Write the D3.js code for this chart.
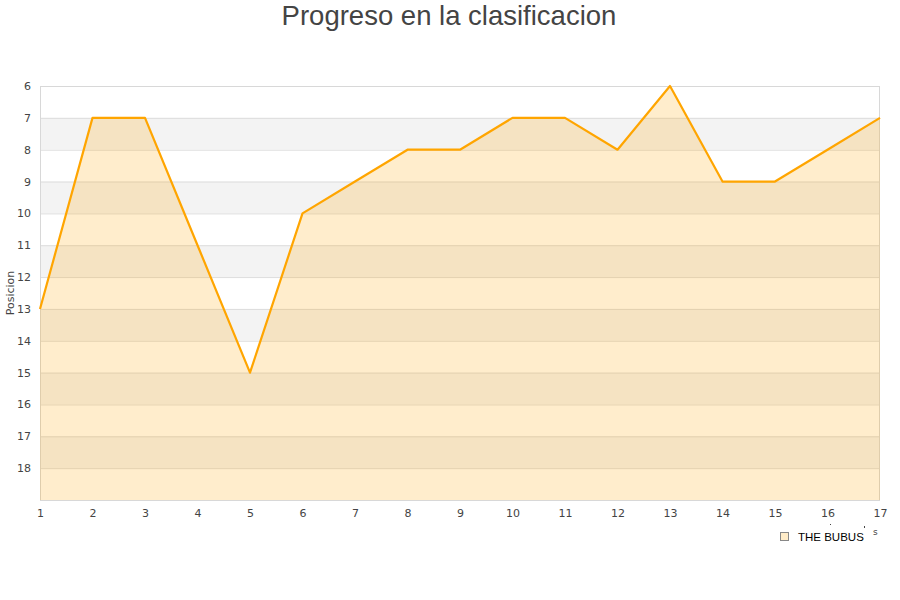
<!DOCTYPE html>
<html><head><meta charset="utf-8">
<script src="https://cdn.jsdelivr.net/npm/d3@7"></script>
<style>body{margin:0;background:#fff}svg{display:block}</style>
</head><body>
<svg id="c" width="900" height="600"></svg>
<script>
const title = "Progreso en la clasificacion";
const yLabel = "Posicion";
const seriesName = "THE BUBUS";
const jornadas = [1,2,3,4,5,6,7,8,9,10,11,12,13,14,15,16,17];
const posiciones = [13,7,7,11,15,10,9,8,8,7,7,8,6,9,9,8,7];
const yTicks = [6,7,8,9,10,11,12,13,14,15,16,17,18];

const svg = d3.select("#c");
const m = {l:40, r:880, t:86, b:500};
const x = d3.scaleLinear().domain([1,17]).range([m.l, m.r]);
const y = d3.scaleLinear().domain([6,19]).range([m.t, m.b]);

// bands
const bands = d3.range(6,19);
svg.append("g").selectAll("rect").data(bands).join("rect")
  .attr("x", m.l).attr("width", m.r-m.l)
  .attr("y", d=>y(d)).attr("height", d=>y(d+1)-y(d))
  .attr("fill", d => (d%2===1) ? "#f3f3f3" : "#ffffff");

// gridlines
svg.append("g").selectAll("line").data(yTicks.slice(1)).join("line")
  .attr("x1", m.l).attr("x2", m.r).attr("y1", d=>y(d)+0.5).attr("y2", d=>y(d)+0.5)
  .attr("stroke", "#dddddd").attr("stroke-width", 1);

// border
svg.append("rect").attr("x", m.l+0.5).attr("y", m.t+0.5)
  .attr("width", m.r-m.l-1).attr("height", m.b-m.t)
  .attr("fill","none").attr("stroke","#d8d8d8");

const data = jornadas.map((j,i)=>({j, p:posiciones[i]}));
svg.append("path").datum(data)
  .attr("d", d3.area().x(d=>x(d.j)).y0(y(19)).y1(d=>y(d.p)))
  .attr("fill", "#ffa500").attr("fill-opacity", 0.2);
svg.append("path").datum(data)
  .attr("d", d3.line().x(d=>x(d.j)).y(d=>y(d.p)))
  .attr("fill","none").attr("stroke","#ffa500").attr("stroke-width",2.2)
  .attr("stroke-linejoin","round");

// y axis labels
const yAxis = d3.axisLeft(y).tickValues(yTicks).tickSize(0).tickPadding(9);
const gy = svg.append("g").attr("transform",`translate(${m.l},0)`).call(yAxis);
gy.select(".domain").remove();
gy.selectAll("text").attr("font-family","DejaVu Sans").attr("font-size",11).attr("fill","#444");

// x axis labels
const xAxis = d3.axisBottom(x).tickValues(jornadas).tickSize(0).tickPadding(9);
const gx = svg.append("g").attr("transform",`translate(0,${m.b})`).call(xAxis);
gx.select(".domain").remove();
gx.selectAll("text").attr("font-family","DejaVu Sans").attr("font-size",11).attr("fill","#444");

// title
svg.append("text").attr("x",449).attr("y",25).attr("text-anchor","middle")
  .attr("font-family","Liberation Sans, Arial").attr("font-size",27.5).attr("fill","#444").text(title);

// y label
svg.append("text").attr("transform","translate(14,293) rotate(-90)").attr("text-anchor","middle")
  .attr("font-family","DejaVu Sans").attr("font-size",11).attr("fill","#444").text(yLabel);

// legend
svg.append("rect").attr("x",780.5).attr("y",532.5).attr("width",8).attr("height",8)
  .attr("fill","#ffecc8").attr("stroke","#888");
svg.append("text").attr("x",798).attr("y",540.5)
  .attr("font-family","Liberation Sans, Arial").attr("font-size",11.5).attr("fill","#000").text(seriesName);
svg.append("text").attr("x",873).attr("y",535)
  .attr("font-family","DejaVu Sans").attr("font-size",9).attr("fill","#444").text("s");
svg.append("rect").attr("x",830).attr("y",524).attr("width",1).attr("height",1).attr("fill","#444");
svg.append("rect").attr("x",864).attr("y",526).attr("width",1).attr("height",2).attr("fill","#444");
</script>
</body></html>
